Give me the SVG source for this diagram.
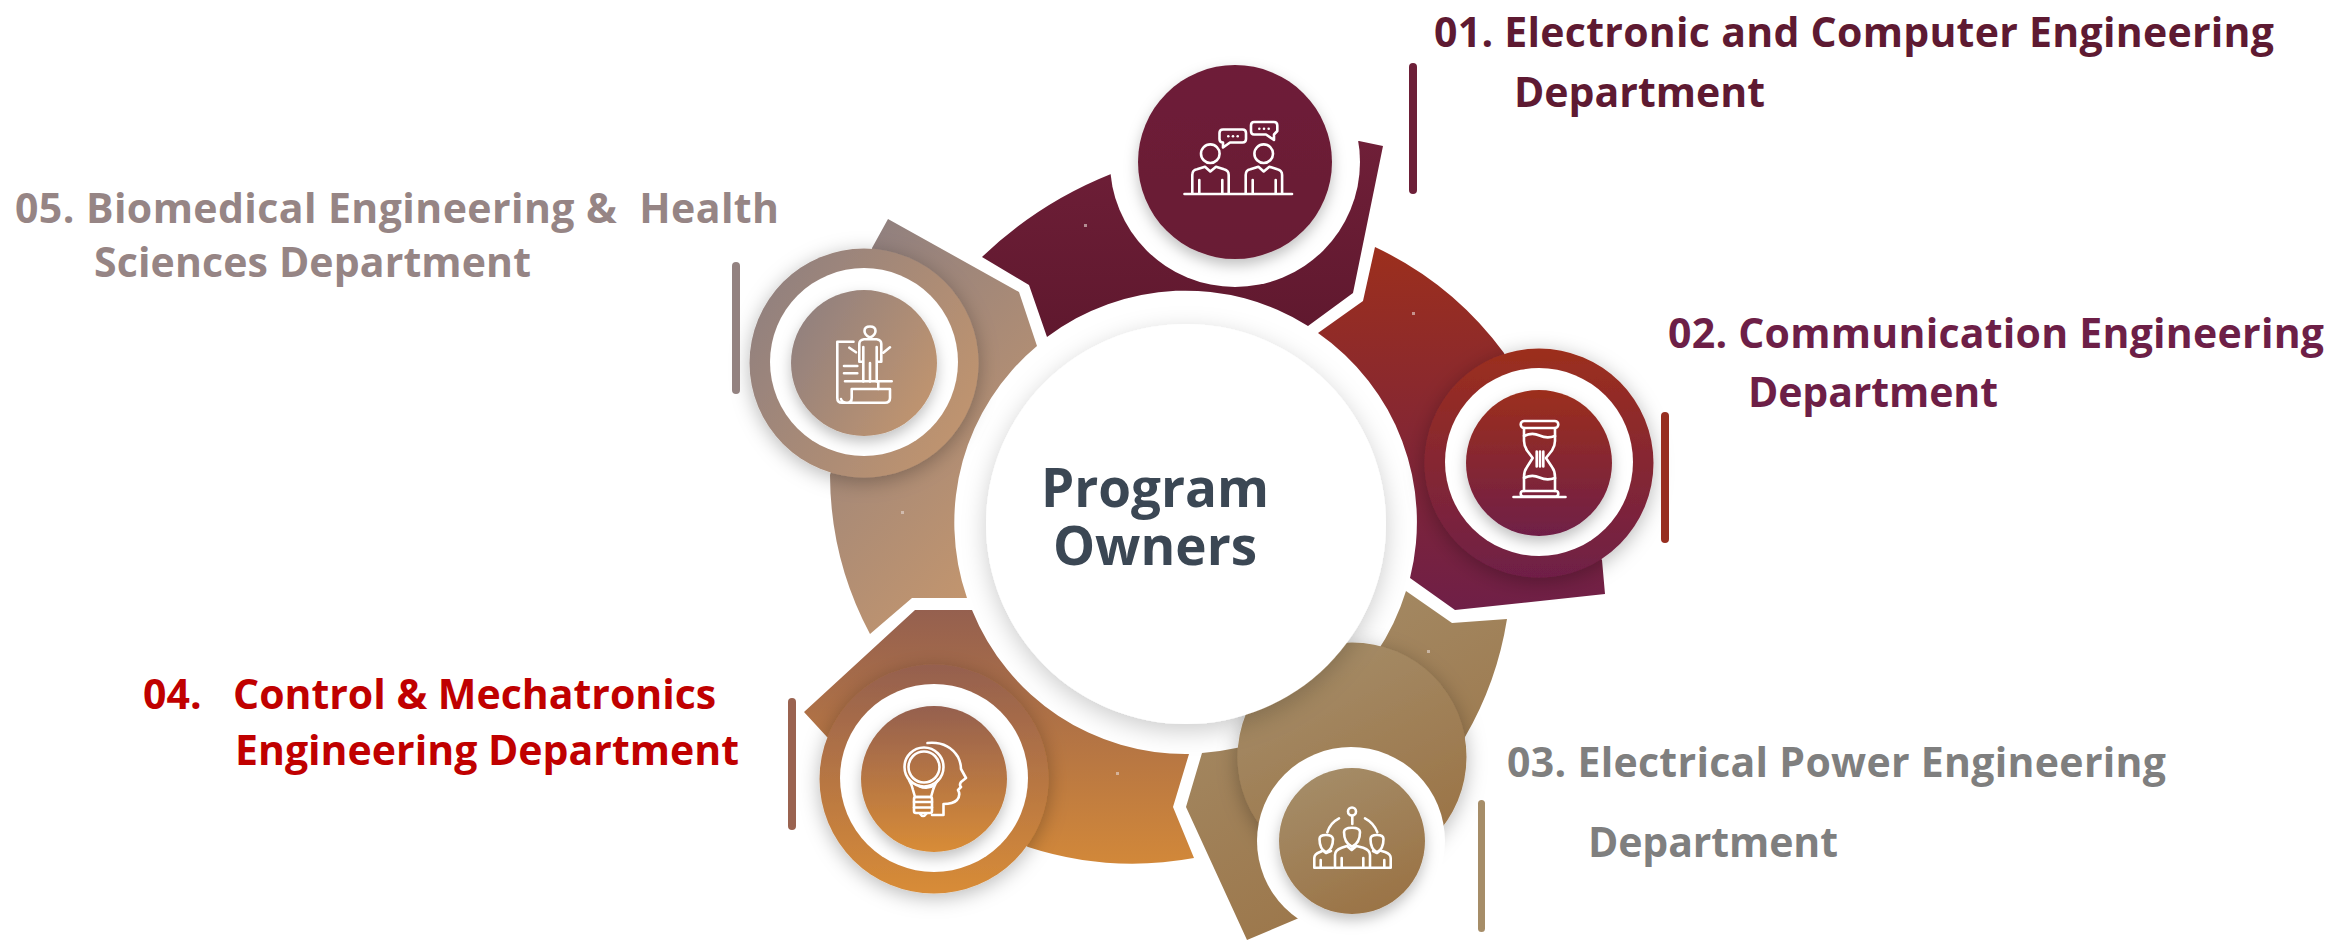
<svg xmlns="http://www.w3.org/2000/svg" width="2331" height="940" viewBox="0 0 2331 940">
<style>
text{font-family:"Open Sans","Liberation Sans",sans-serif;font-weight:700;white-space:pre}
.l{font-size:41px}
.c{font-size:53px;fill:#3b4754;text-anchor:middle}
.i{fill:none;stroke:#fff;stroke-width:2.6;stroke-linecap:round;stroke-linejoin:round}
.d{fill:#fff;stroke:none}
.w{fill:#fff}
.dot{fill:#e6d8d4;opacity:.6}
</style>
<defs>
<linearGradient id="g1" x1="0" y1="0" x2="0" y2="1"><stop offset="0" stop-color="#6e1f38"/><stop offset="1" stop-color="#691c34"/></linearGradient>
<linearGradient id="g2" x1="0" y1="0" x2="0" y2="1"><stop offset="0" stop-color="#9c2f1d"/><stop offset="1" stop-color="#6f1f47"/></linearGradient>
<linearGradient id="g3" x1="0.25" y1="0" x2="0.75" y2="1"><stop offset="0" stop-color="#a58d69"/><stop offset="1" stop-color="#9a7244"/></linearGradient>
<linearGradient id="g4" x1="0" y1="0" x2="0" y2="1"><stop offset="0" stop-color="#95604f"/><stop offset="1" stop-color="#d88c37"/></linearGradient>
<linearGradient id="g5" x1="0" y1="0.2" x2="1" y2="0.8"><stop offset="0" stop-color="#90807f"/><stop offset="1" stop-color="#c2956e"/></linearGradient>
<linearGradient id="gs1" gradientUnits="userSpaceOnUse" x1="0" y1="141" x2="0" y2="340"><stop offset="0" stop-color="#6f1f38"/><stop offset="1" stop-color="#5f182e"/></linearGradient>
<linearGradient id="gs2" gradientUnits="userSpaceOnUse" x1="0" y1="247" x2="0" y2="610"><stop offset="0" stop-color="#9c2f1d"/><stop offset="1" stop-color="#6f1f47"/></linearGradient>
<linearGradient id="gs3" gradientUnits="userSpaceOnUse" x1="1230" y1="591" x2="1440" y2="940"><stop offset="0" stop-color="#a58d69"/><stop offset="1" stop-color="#9a7244"/></linearGradient>
<linearGradient id="gs4" gradientUnits="userSpaceOnUse" x1="0" y1="610" x2="0" y2="890"><stop offset="0" stop-color="#95604f"/><stop offset="1" stop-color="#d88c37"/></linearGradient>
<linearGradient id="gs5" gradientUnits="userSpaceOnUse" x1="800" y1="300" x2="1040" y2="520"><stop offset="0" stop-color="#90807f"/><stop offset="1" stop-color="#c2956e"/></linearGradient>
<filter id="sA" x="-40%" y="-40%" width="180%" height="180%"><feDropShadow dx="0" dy="4" stdDeviation="10" flood-color="#000" flood-opacity="0.28"/></filter>
<filter id="sB" x="-30%" y="-30%" width="160%" height="160%"><feDropShadow dx="0" dy="6" stdDeviation="7" flood-color="#000" flood-opacity="0.25"/></filter>
<filter id="sC" x="-20%" y="-20%" width="140%" height="140%"><feDropShadow dx="0" dy="7" stdDeviation="12" flood-color="#000" flood-opacity="0.2"/></filter>
</defs>

<g id="connectors"></g>

<g id="segments">
<path fill="url(#gs1)" d="M982,257 L1029,285 L1047,337 A230,230 0 0 1 1308,326 L1353,293 L1383,146 L1359,141 L1235,162 L1111,174 A400,400 0 0 0 982,257Z"/>
<path fill="url(#gs2)" d="M1375,247 L1363,301 L1318,333 A230,230 0 0 1 1410,578 L1455,610 L1605,594 L1602,560 L1560,500 L1504,353 A340,340 0 0 0 1375,247Z"/>
<path fill="url(#gs3)" d="M1406,591 L1452,623 L1507,619 A340,340 0 0 1 1465,737 L1445,823 L1299,918 L1247,940 L1186,807 L1202,753 A230,230 0 0 0 1406,591Z"/>
<path fill="url(#gs4)" d="M915,610 L972,610 A230,230 0 0 0 1189,754 L1173,807 L1194,858 A340,340 0 0 1 1028,847 L930,790 L827,737 L804,712Z"/>
<path fill="url(#gs5)" d="M888,219 L1019,292 L1037,346 A230,230 0 0 0 967,598 L912,598 L870,634 A340,340 0 0 1 830,475 L864,363 L872,248Z"/>
<rect class="dot" x="1084" y="224" width="3" height="3"/>
<rect class="dot" x="1412" y="312" width="3" height="3"/>
<rect class="dot" x="1427" y="650" width="3" height="3"/>
<rect class="dot" x="1116" y="772" width="3" height="3"/>
<rect class="dot" x="901" y="511" width="3" height="3"/>
</g>

<g id="node-01">
<circle class="w" cx="1235" cy="162" r="125"/>
<circle cx="1235" cy="162" r="97" fill="url(#g1)" filter="url(#sB)"/>
<g class="i">
<path d="M1184.5,194H1292"/>
<circle cx="1210.3" cy="153.7" r="9.3"/><circle cx="1263.7" cy="153.7" r="9.3"/>
<path d="M1192.3,193.5V175Q1192.3,170 1197,169.3L1205,166.7L1210.3,171.5L1216,166.7L1224,169.3Q1228.7,170.5 1228.7,175V193.5M1199.3,180V193.5M1222.3,180V193.5"/>
<path d="M1245.7,193.5V175Q1245.7,170 1250.4,169.3L1258.4,166.7L1263.7,171.5L1269.4,166.7L1277.4,169.3Q1282.1,170.5 1282.1,175V193.5M1252.7,180V193.5M1275.7,180V193.5"/>
<path d="M1223,129.5H1242.5Q1246,129.5 1246,133V139Q1246,142.5 1242.5,142.5H1230L1223,147.5V142.5Q1219.5,142.5 1219.5,139V133Q1219.5,129.5 1223,129.5Z"/>
<path d="M1254,122H1274Q1277.3,122 1277.3,125.5V131L1274,134.5V140L1266,134.5H1254Q1251,134.5 1251,131V125.5Q1251,122 1254,122Z"/>
</g>
<circle class="d" cx="1228.3" cy="136.3" r="1.3"/><circle class="d" cx="1233" cy="136.3" r="1.3"/><circle class="d" cx="1237.7" cy="136.3" r="1.3"/>
<circle class="d" cx="1259.3" cy="128.7" r="1.3"/><circle class="d" cx="1264" cy="128.7" r="1.3"/><circle class="d" cx="1268.7" cy="128.7" r="1.3"/>
</g>

<g id="node-02">
<circle cx="1539" cy="463" r="114.5" fill="url(#g2)" filter="url(#sA)"/>
<circle class="w" cx="1539" cy="462" r="94"/>
<circle cx="1539" cy="463" r="73" fill="url(#g2)" filter="url(#sB)"/>
<g class="i">
<path d="M1513.5,497H1565.5"/>
<rect x="1520.7" y="491" width="37.6" height="5.5" rx="2.7"/>
<rect x="1520.7" y="421" width="37.6" height="7" rx="3.5"/>
<path d="M1524,428V441Q1524,446 1527,450.5L1532.7,458L1527,467Q1524,471 1524,477V491M1555,428V441Q1555,446 1552,450.5L1546,458L1552,467Q1555,471 1555,477V491"/>
<path d="M1524,436Q1532,432 1539.5,435.5T1555,436M1524,478Q1532,474 1539.5,477.5T1555,478"/>
<path d="M1536.7,451.5V466.5M1540,451.5V466.5M1543.3,451.5V466.5"/>
</g>
</g>

<g id="node-03">
<circle cx="1352" cy="757" r="114.5" fill="url(#g3)" filter="url(#sA)"/>
<circle class="w" cx="1351" cy="841" r="94"/>
<circle cx="1352" cy="841" r="73" fill="url(#g3)" filter="url(#sB)"/>
<g class="i">
<circle cx="1352" cy="811.5" r="4"/>
<path d="M1352.3,816.5V824M1339,818.3Q1330,823 1327.3,832.3M1365,818.3Q1374,823 1377.3,832.3"/>
<path d="M1344,832Q1344,827.7 1352,827.7T1360,832Q1360,843 1352,846.7Q1344,843 1344,832Z"/>
<path d="M1335,867.7V855Q1335,850 1341.7,847.7L1347,846L1351.7,850L1356.5,846L1363.3,847.7Q1370,850 1370,855V867.7Z M1341.7,858V867.7M1363.3,858V867.7"/>
<path d="M1319.5,839Q1319.5,835 1326,835T1333,839Q1333,849 1326,852.5Q1319.5,849 1319.5,839Z"/>
<path d="M1333,867.7H1314.3V858Q1314.3,854 1320,852L1323,850.5L1326,853L1331,851M1320.7,860V867.7"/>
<path d="M1370.5,839Q1370.5,835 1377,835T1383.5,839Q1383.5,849 1377,852.5Q1370.5,849 1370.5,839Z"/>
<path d="M1371,867.7H1390.7V858Q1390.7,854 1385,852L1380,850.5L1377,853L1373,851M1384.3,860V867.7"/>
</g>
</g>

<g id="node-04">
<circle cx="934" cy="779" r="114.5" fill="url(#g4)" filter="url(#sA)"/>
<circle class="w" cx="934" cy="778" r="94"/>
<circle cx="934" cy="779" r="73" fill="url(#g4)" filter="url(#sB)"/>
<g class="i">
<circle cx="924" cy="767" r="19.5"/><circle cx="924" cy="767" r="15.5"/>
<path d="M909,780Q912,785 913,790L915,797H931L933,790Q934,785 938,780"/>
<rect x="914" y="797" width="18" height="16" rx="2"/>
<path d="M914,802H932M914,807.5H932M920,813.5Q923,818.5 926.5,813.5M919,786Q927,790 935,785"/>
<path d="M927.5,743Q948,741 958,757Q961,763 961,769L966,778L961,782Q959,785 961,787L958,790Q961,795 957,800Q953,804 943.5,804V815H932"/>
</g>
</g>

<g id="node-05">
<circle cx="864" cy="363" r="114.5" fill="url(#g5)" filter="url(#sA)"/>
<circle class="w" cx="864" cy="362" r="94"/>
<circle cx="864" cy="363" r="73" fill="url(#g5)" filter="url(#sB)"/>
<g class="i">
<path d="M864.5,331Q864.5,326.5 870,326.5T875.5,331Q875.5,335 870,337.5Q864.5,335 864.5,331Z"/>
<path d="M859.3,361.7V344Q859.3,340 864,339.3H876.7Q881.3,340 881.3,344V361.7M863.3,347V381.5M876.7,347V381.5M870,363V381.5M859.3,361.7H863.3M876.7,361.7H881.3"/>
<path d="M849.3,347.7L856,352.3M890,347.3L883.3,352.7"/>
<path d="M853.5,341.7H837.3V398Q837.3,402.7 842,402.7H885Q890,402.7 890,398V389H851.7V398Q851.7,402.7 847,402.7Q842,402.7 841,399"/>
<path d="M844,366H857.3M844,373.3H857.3M845,381.3H891.7M878.3,381.3V389"/>
</g>
</g>

<g id="bars">
<rect x="1409" y="63" width="8" height="131" rx="4" fill="#6d1f38"/>
<rect x="1661" y="412" width="8" height="131" rx="4" fill="#972e20"/>
<rect x="1478" y="800" width="7" height="132" rx="3.5" fill="#a68d68"/>
<rect x="788" y="698" width="8" height="132" rx="4" fill="#9a6350"/>
<rect x="732" y="262" width="8" height="132" rx="4" fill="#938280"/>
</g>

<g id="center">
<circle class="w" cx="1186" cy="524" r="200" filter="url(#sC)"/>
<text class="c"><tspan x="1155" y="507">Program</tspan><tspan x="1155" y="565">Owners</tspan></text>
</g>

<g id="labels">
<text class="l" x="1434" y="47" fill="#5e1a32" textLength="840" lengthAdjust="spacing">01. Electronic and Computer Engineering</text>
<text class="l" x="1514" y="107" fill="#5e1a32" textLength="251" lengthAdjust="spacing">Department</text>
<text class="l" x="1668" y="348" fill="#6d1f47" textLength="656" lengthAdjust="spacing">02. Communication Engineering</text>
<text class="l" x="1748" y="407" fill="#6d1f47" textLength="250" lengthAdjust="spacing">Department</text>
<text class="l" x="1507" y="777" fill="#7f7f7f" textLength="659" lengthAdjust="spacing">03. Electrical Power Engineering</text>
<text class="l" x="1588" y="857" fill="#7f7f7f" textLength="250" lengthAdjust="spacing">Department</text>
<text class="l" y="709" fill="#c00000"><tspan x="143">04.</tspan><tspan x="233">Control &amp; Mechatronics</tspan></text>
<text class="l" x="235" y="765" fill="#c00000" textLength="504" lengthAdjust="spacing">Engineering Department</text>
<text class="l" x="15" y="223" fill="#968585" textLength="764" lengthAdjust="spacing">05. Biomedical Engineering &amp;  Health</text>
<text class="l" x="94" y="277" fill="#968585" textLength="437" lengthAdjust="spacing">Sciences Department</text>
</g>
</svg>
